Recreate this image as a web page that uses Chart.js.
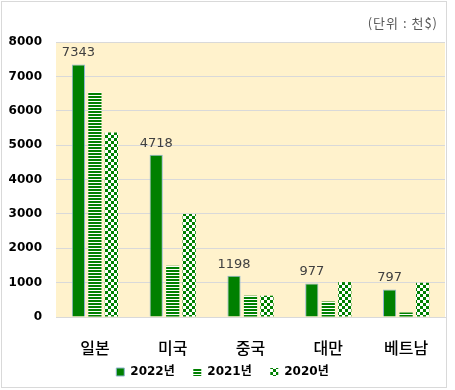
<!DOCTYPE html>
<html>
<head>
<meta charset="utf-8">
<script src="https://cdn.jsdelivr.net/npm/chart.js@4"></script>
<style>
  html, body { margin: 0; padding: 0; background: #fff; }
  #wrap { width: 455px; height: 390px; position: relative; }
</style>
</head>
<body>
<div id="wrap"><canvas id="exportChart"></canvas></div>
<script>
// 국가별 수출액 (단위: 천$)
const countries = ['일본', '미국', '중국', '대만', '베트남'];
const years = ['2022년', '2021년', '2020년'];
const y2022 = [7343, 4718, 1198, 977, 797];
const y2021 = [6540, 1490, 620, 450, 130];
const y2020 = [5365, 3000, 620, 1015, 995];
const unitText = '(단위 : 천$)';

const GREEN = '#008000';

function makePattern(kind) {
  const c = document.createElement('canvas');
  const g = c.getContext('2d');
  if (kind === 'stripe') {
    c.width = 4; c.height = 3;
    g.fillStyle = '#fff'; g.fillRect(0, 0, 4, 3);
    g.fillStyle = GREEN; g.fillRect(0, 0, 4, 2);
  } else {
    c.width = 6; c.height = 6;
    g.fillStyle = '#fff'; g.fillRect(0, 0, 6, 6);
    g.fillStyle = GREEN; g.fillRect(0, 0, 3, 3); g.fillRect(3, 3, 3, 3);
  }
  return g.createPattern(c, 'repeat');
}

const decor = {
  id: 'decor',
  beforeDraw(chart) {
    const { ctx, chartArea: a } = chart;
    ctx.save();
    ctx.fillStyle = '#FFF2CC';
    ctx.fillRect(a.left, a.top, a.right - a.left, a.bottom - a.top);
    ctx.strokeStyle = '#d9d9d9';
    ctx.lineWidth = 1;
    ctx.strokeRect(1.5, 1.5, 445, 386);
    ctx.fillStyle = '#595959';
    ctx.font = '13px "Noto Sans CJK KR", sans-serif';
    ctx.letterSpacing = '1px';
    ctx.textAlign = 'right';
    ctx.textBaseline = 'middle';
    ctx.fillText(unitText, 438, 23);
    ctx.restore();
  },
  afterDatasetsDraw(chart) {
    const { ctx } = chart;
    const meta = chart.getDatasetMeta(0);
    ctx.save();
    ctx.fillStyle = '#404040';
    ctx.font = '13px "DejaVu Sans", sans-serif';
    ctx.textAlign = 'center';
    ctx.textBaseline = 'bottom';
    meta.data.forEach((bar, i) => {
      ctx.fillText(String(y2022[i]), bar.x, bar.y - 5);
    });
    ctx.restore();
  }
};

const baseLabels = Chart.defaults.plugins.legend.labels.generateLabels;

const ctx = document.getElementById('exportChart').getContext('2d');
new Chart(ctx, {
  type: 'bar',
  data: {
    labels: countries,
    datasets: [
      { label: years[0], data: y2022, backgroundColor: GREEN, borderColor: '#8fb4d0', borderWidth: 1 },
      { label: years[1], data: y2021, backgroundColor: makePattern('stripe'), borderWidth: 0 },
      { label: years[2], data: y2020, backgroundColor: makePattern('check'), borderWidth: 0 },
    ],
  },
  options: {
    responsive: true,
    maintainAspectRatio: false,
    animation: false,
    layout: { padding: { top: 42, right: 10, left: 0, bottom: 2 } },
    datasets: { bar: { categoryPercentage: 0.636, barPercentage: 0.8 } },
    scales: {
      y: {
        min: 0, max: 8000,
        ticks: {
          stepSize: 1000, padding: 14, color: '#000',
          callback: (v) => String(v),
          font: { family: '"DejaVu Sans", sans-serif', size: 12, weight: 'bold' },
        },
        grid: { color: '#d9d9d9', drawTicks: false },
        border: { display: false },
        afterFit: (s) => { s.width = 56; },
      },
      x: {
        ticks: {
          padding: 21, color: '#000',
          font: { family: '"Noto Sans CJK KR", sans-serif', size: 16, weight: '500' },
        },
        grid: { display: false, drawTicks: false },
        border: { color: '#d9d9d9' },
        afterFit: (s) => { s.height = 43; },
      },
    },
    plugins: {
      legend: {
        position: 'bottom',
        labels: {
          boxWidth: 8, boxHeight: 8, padding: 6, color: '#000',
          font: { family: '"DejaVu Sans", "Noto Sans CJK KR", sans-serif', size: 12, weight: 'bold' },
          // 항목 간격을 원본처럼 넓게
          generateLabels: (chart) => baseLabels(chart).map((l, i) => {
            if (i < years.length - 1) l.text = l.text + '   ';
            return l;
          }),
        },
      },
      tooltip: { enabled: false },
    },
  },
  plugins: [decor],
});
</script>
</body>
</html>
